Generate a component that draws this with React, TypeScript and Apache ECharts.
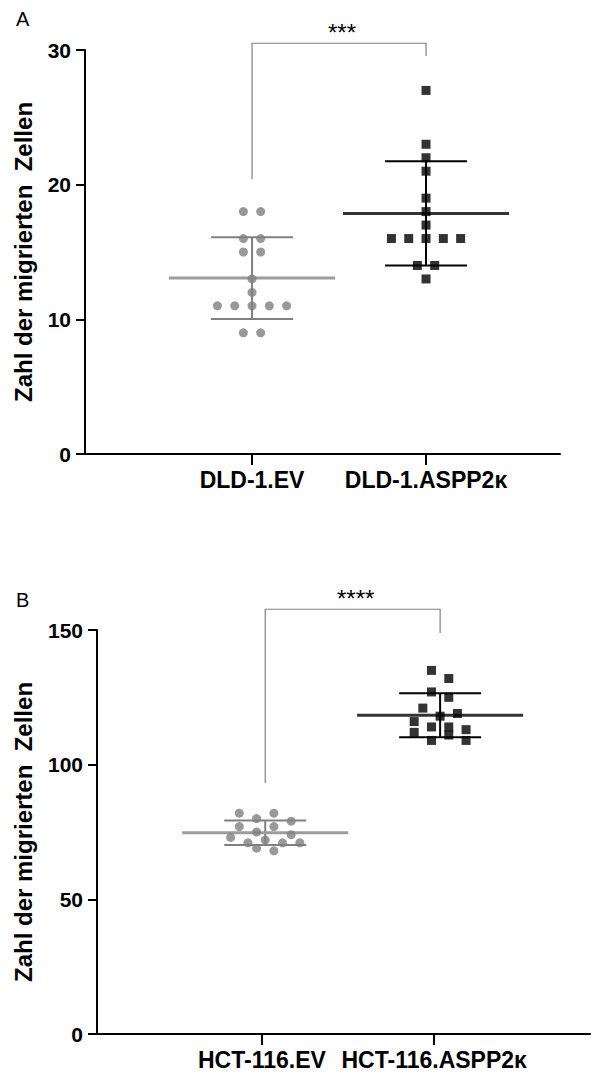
import React, { useEffect, useRef } from "react";
import * as echarts from "echarts";

// ---------- data ----------
const dldCategories = ["DLD-1.EV", "DLD-1.ASPP2κ"];
const dldEv = [18, 18, 16, 16, 15, 15, 13, 12, 11, 11, 11, 11, 11, 9, 9];
const dldAspp = [27, 23, 22, 21, 19, 18, 17, 16, 16, 16, 16, 16, 14, 14, 13];
const dldYMax = 30;
const dldYInterval = 10;
const dldStars = "***";
// bracket: [top, left leg end, right leg end] in axis units
const dldBracket = [30.5, 20.4, 29.55];

const hctCategories = ["HCT-116.EV", "HCT-116.ASPP2κ"];
const hctEv = [82, 82, 80, 79, 77, 77, 75, 74, 73, 72, 71, 71, 71, 69, 68];
const hctAspp = [135, 132, 127, 125, 121, 119, 118, 116, 114, 114, 113, 112, 111, 109, 109];
const hctYMax = 150;
const hctYInterval = 50;
const hctStars = "****";
const hctBracket = [157.7, 93.2, 148.9];

const yTitle = "Zahl der migrierten  Zellen";
const panelLetters = ["A", "B"];

// ---------- styling / layout ----------
const FONT = '"Liberation Sans", Arial, Helvetica, sans-serif';
const GRAY_DOT = "#808080";
const GRAY_MEAN = "#9c9c9c";
const BLACK = "#000000";
const BLACK_MEAN = "#333333";
const COL_PX = 17.3;
const ROW_PX = 10;
const MEAN_HALF = 83;
const CAP_HALF = 41;

type Layout = { left: number; top: number; width: number; height: number; xMin: number; xMax: number; nameGap: number; letterTop: number; tickAt: number[] };
const layouts: Layout[] = [
  { left: 85, top: 50, width: 475, height: 404, xMin: -0.96, xMax: 1.77, nameGap: 50, letterTop: 9, tickAt: [0, 1] },
  { left: 97, top: 630, width: 493, height: 404, xMin: -0.962, xMax: 1.857, nameGap: 62, letterTop: 590, tickAt: [-0.019, 0.966] },
];

function meanSd(v: number[]) {
  const m = v.reduce((a, b) => a + b, 0) / v.length;
  const s = Math.sqrt(v.reduce((a, b) => a + (b - m) * (b - m), 0) / (v.length - 1));
  return [m, s];
}

// simple row-based swarm layout: points close in value share a row and spread horizontally
function swarm(values: number[], center: number, pxPerY: number, pxPerX: number) {
  const sorted = [...values].sort((a, b) => b - a);
  const rows: number[][] = [];
  for (const v of sorted) {
    const row = rows[rows.length - 1];
    if (row && (row[0] - v) * pxPerY < ROW_PX) row.push(v);
    else rows.push([v]);
  }
  const out: number[][] = [];
  for (const row of rows) {
    const n = row.length;
    const slots = Array.from({ length: n }, (_, i) => i - (n - 1) / 2);
    const order: number[] = [];
    for (let i = 0; i < n; i += 2) order.push(i);
    for (let i = 1; i < n; i += 2) order.push(i);
    row.forEach((v, k) => out.push([center + (slots[order[k]] * COL_PX) / pxPerX, v]));
  }
  return out;
}

function buildPanel(idx: number, cats: string[], ev: number[], aspp: number[], yMax: number, yInt: number, bracket: number[], stars: string) {
  const L = layouts[idx];
  const pxPerX = L.width / (L.xMax - L.xMin);
  const pxPerY = L.height / yMax;
  const grid = { left: L.left, top: L.top, width: L.width, height: L.height, containLabel: false };
  const xAxis = {
    type: "value",
    gridIndex: idx,
    min: L.xMin,
    max: L.xMax,
    splitLine: { show: false },
    axisLine: { show: true, onZero: false, lineStyle: { color: BLACK, width: 2 } },
    axisTick: { show: true, customValues: L.tickAt, length: 11, lineStyle: { color: BLACK, width: 2 } },
    axisLabel: {
      show: true,
      customValues: L.tickAt,
      formatter: (v: number) => cats[Math.round(v)],
      margin: 14,
      color: BLACK,
      fontFamily: FONT,
      fontWeight: "bold",
      fontSize: 23,
    },
  };
  const yAxis = {
    type: "value",
    gridIndex: idx,
    min: 0,
    max: yMax,
    interval: yInt,
    splitLine: { show: false },
    axisLine: { show: true, onZero: false, lineStyle: { color: BLACK, width: 2 } },
    axisTick: { show: true, length: 9, lineStyle: { color: BLACK, width: 2 } },
    axisLabel: { margin: 14, color: BLACK, fontFamily: FONT, fontWeight: "bold", fontSize: 21 },
    name: yTitle,
    nameLocation: "middle",
    nameGap: L.nameGap,
    nameTextStyle: { color: BLACK, fontFamily: FONT, fontWeight: "bold", fontSize: 24 },
  };

  const stat = (vals: number[], center: number) => {
    const [m, s] = meanSd(vals);
    return [[center, m, s]];
  };
  const meanSeries = (vals: number[], center: number, meanColor: string, barColor: string) => ({
    type: "custom",
    xAxisIndex: idx,
    yAxisIndex: idx,
    z: 2,
    silent: true,
    data: stat(vals, center),
    renderItem: (_p: any, api: any) => {
      const x = api.value(0);
      const m = api.value(1);
      const s = api.value(2);
      const c = api.coord([x, m]);
      const t = api.coord([x, m + s]);
      const b = api.coord([x, m - s]);
      return {
        type: "group",
        children: [
          { type: "line", shape: { x1: c[0], y1: t[1], x2: c[0], y2: b[1] }, style: { stroke: barColor, lineWidth: 2 } },
          { type: "line", shape: { x1: c[0] - CAP_HALF, y1: t[1], x2: c[0] + CAP_HALF, y2: t[1] }, style: { stroke: barColor, lineWidth: 2 } },
          { type: "line", shape: { x1: c[0] - CAP_HALF, y1: b[1], x2: c[0] + CAP_HALF, y2: b[1] }, style: { stroke: barColor, lineWidth: 2 } },
          { type: "line", shape: { x1: c[0] - MEAN_HALF, y1: c[1], x2: c[0] + MEAN_HALF, y2: c[1] }, style: { stroke: meanColor, lineWidth: 3 } },
        ],
      };
    },
  });

  const series = [
    meanSeries(ev, 0, GRAY_MEAN, GRAY_DOT),
    meanSeries(aspp, 1, BLACK_MEAN, BLACK),
    {
      type: "scatter",
      xAxisIndex: idx,
      yAxisIndex: idx,
      z: 3,
      symbol: "circle",
      symbolSize: 9,
      itemStyle: { color: GRAY_DOT },
      data: swarm(ev, 0, pxPerY, pxPerX),
    },
    {
      type: "scatter",
      xAxisIndex: idx,
      yAxisIndex: idx,
      z: 3,
      symbol: "rect",
      symbolSize: 9,
      itemStyle: { color: BLACK },
      data: swarm(aspp, 1, pxPerY, pxPerX),
    },
    {
      type: "custom",
      xAxisIndex: idx,
      yAxisIndex: idx,
      clip: false,
      silent: true,
      z: 4,
      data: [[0, 1, bracket[0], bracket[1], bracket[2]]],
      renderItem: (_p: any, api: any) => {
        const a = api.coord([api.value(0), api.value(3)]);
        const at = api.coord([api.value(0), api.value(2)]);
        const bt = api.coord([api.value(1), api.value(2)]);
        const b = api.coord([api.value(1), api.value(4)]);
        return {
          type: "group",
          children: [
            { type: "polyline", shape: { points: [a, at, bt, b] }, style: { stroke: "#808080", lineWidth: 1.2, fill: null } },
            {
              type: "text",
              x: (at[0] + bt[0]) / 2 + 3,
              y: at[1] - 11,
              style: { text: stars, fontSize: 24, fontFamily: FONT, fill: BLACK, align: "center", verticalAlign: "middle" },
            },
          ],
        };
      },
    },
  ];
  return { grid, xAxis, yAxis, series };
}

export default function App() {
  const ref = useRef<HTMLDivElement>(null);
  useEffect(() => {
    if (!ref.current) return;
    const chart = echarts.init(ref.current, undefined, { renderer: "svg" });
    const pA = buildPanel(0, dldCategories, dldEv, dldAspp, dldYMax, dldYInterval, dldBracket, dldStars);
    const pB = buildPanel(1, hctCategories, hctEv, hctAspp, hctYMax, hctYInterval, hctBracket, hctStars);
    chart.setOption({
      animation: false,
      backgroundColor: "#ffffff",
      grid: [pA.grid, pB.grid],
      xAxis: [pA.xAxis, pB.xAxis],
      yAxis: [pA.yAxis, pB.yAxis],
      series: [...pA.series, ...pB.series],
      graphic: panelLetters.map((t, i) => ({
        type: "text",
        left: 16,
        top: layouts[i].letterTop,
        style: { text: t, fontSize: 20, fontFamily: FONT, fill: BLACK },
      })),
    } as any);
    return () => chart.dispose();
  }, []);
  return <div ref={ref} style={{ position: "absolute", left: 0, top: 0, width: 596, height: 1077 }} />;
}
